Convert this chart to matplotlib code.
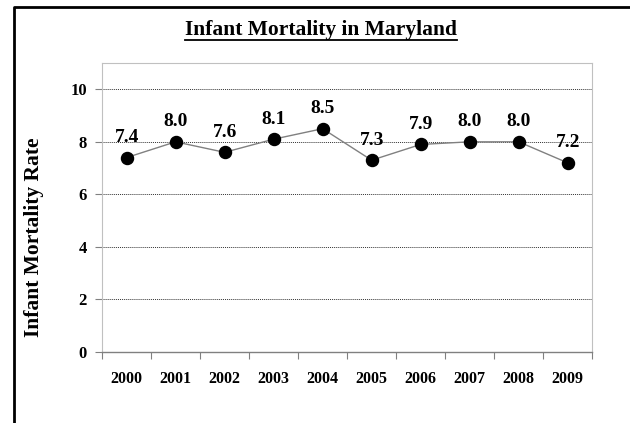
import numpy as np
import matplotlib.pyplot as plt
from matplotlib.lines import Line2D

years = ['2000', '2001', '2002', '2003', '2004', '2005', '2006', '2007', '2008', '2009']
rates = [7.4, 8.0, 7.6, 8.1, 8.5, 7.3, 7.9, 8.0, 8.0, 7.2]
y_ticks = [0, 2, 4, 6, 8, 10]

plt.rcParams['font.family'] = ['Liberation Serif', 'DejaVu Serif']
plt.rcParams['font.weight'] = 'bold'

fig = plt.figure(figsize=(6.3, 4.23), dpi=100)
ax = fig.add_axes([0.162, 0.168, 0.778, 0.683])

x = np.arange(len(years))
ax.plot(x, rates, color='#808080', lw=1, zorder=3)
ax.scatter(x, rates, s=75, color='black', zorder=4)
for xi, v in zip(x, rates):
    ax.annotate(f'{v:.1f}', (xi, v), xytext=(0, 14.5), textcoords='offset points',
                ha='center', va='center', fontsize=14, fontweight='bold')

ax.set_xlim(-0.5, len(years) - 0.5)
ax.set_ylim(0, 11)
ax.set_yticks(y_ticks)
ax.set_yticklabels([str(t) for t in y_ticks], fontsize=12, fontweight='bold')
ax.yaxis.grid(True, linestyle=(0, (1, 1)), color='#333333', lw=0.7)
ax.set_axisbelow(True)

ax.set_xticks(np.arange(-0.5, len(years), 1.0))
ax.set_xticklabels([])
ax.set_xticks(x, minor=True)
ax.set_xticklabels(years, minor=True, fontsize=11.5, fontweight='bold')
ax.tick_params(axis='x', which='major', length=5, color='#808080', direction='out')
ax.tick_params(axis='x', which='minor', length=0, pad=14)
ax.tick_params(axis='y', length=5, color='#808080', pad=6)

for side in ['top', 'right', 'left']:
    ax.spines[side].set_color('#c0c0c0')
    ax.spines[side].set_linewidth(0.8)
ax.spines['bottom'].set_color('#808080')
ax.spines['bottom'].set_linewidth(1)

fig.text(0.054, 0.44, 'Infant Mortality Rate', rotation=90, ha='center', va='center',
         fontsize=15.5, fontweight='bold')

title = fig.text(0.51, 0.928, 'Infant Mortality in Maryland', ha='center', va='center',
                 fontsize=15.5, fontweight='bold')
fig.canvas.draw()
bb = title.get_window_extent().transformed(fig.transFigure.inverted())
fig.add_artist(Line2D([bb.x0, bb.x1], [bb.y0 + 0.002, bb.y0 + 0.002], color='black', lw=1.3,
                      transform=fig.transFigure))

# outer frame (left and top edges visible)
fig.add_artist(Line2D([0.022, 0.022, 1.0], [0.0, 0.983, 0.983], color='black', lw=2,
                      transform=fig.transFigure))

fig.savefig('out.png', dpi=100)
